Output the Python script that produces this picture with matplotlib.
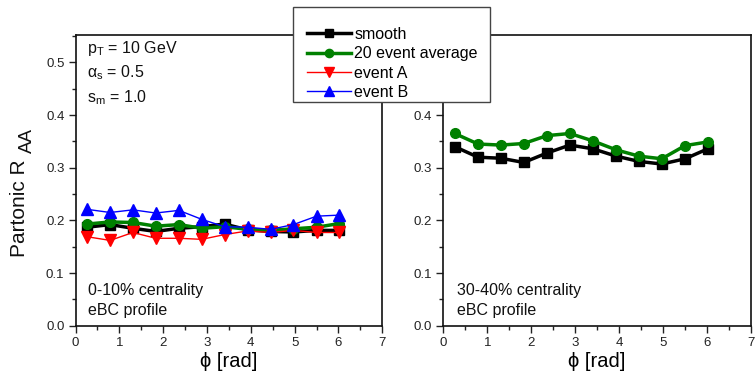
import matplotlib
matplotlib.use("Agg")
import matplotlib.pyplot as plt
from matplotlib.patches import Rectangle
from matplotlib.ticker import MultipleLocator, FormatStrFormatter

plt.rcParams['font.family'] = ['Liberation Sans', 'DejaVu Sans']
plt.rcParams['mathtext.fontset'] = 'custom'
plt.rcParams['mathtext.rm'] = 'Liberation Sans'
plt.rcParams['mathtext.it'] = 'Liberation Sans:italic'

# ---- data ----
phi = [0.26, 0.79, 1.31, 1.83, 2.36, 2.88, 3.40, 3.93, 4.45, 4.97, 5.50, 6.02]

c010_smooth = [0.187, 0.192, 0.185, 0.179, 0.185, 0.188, 0.193, 0.182, 0.179, 0.178, 0.181, 0.181]
c010_avg    = [0.193, 0.197, 0.196, 0.189, 0.192, 0.185, 0.188, 0.183, 0.181, 0.184, 0.187, 0.194]
c010_evA    = [0.169, 0.162, 0.177, 0.166, 0.166, 0.164, 0.173, 0.180, 0.177, 0.181, 0.177, 0.177]
c010_evB    = [0.221, 0.215, 0.220, 0.214, 0.219, 0.202, 0.188, 0.187, 0.183, 0.192, 0.208, 0.210]

c3040_smooth = [0.340, 0.320, 0.318, 0.310, 0.328, 0.343, 0.336, 0.322, 0.312, 0.307, 0.317, 0.336]
c3040_avg    = [0.365, 0.345, 0.343, 0.346, 0.361, 0.365, 0.351, 0.334, 0.322, 0.317, 0.342, 0.349]

labels = ["smooth", "20 event average", "event A", "event B"]
xticks = [0, 1, 2, 3, 4, 5, 6, 7]
yticks_left = [0.0, 0.1, 0.2, 0.3, 0.4, 0.5]
yticks_right = [0.0, 0.1, 0.2, 0.3, 0.4]   # 0.5 lies under the legend box

W, H = 755, 380
fig = plt.figure(figsize=(W / 100, H / 100), dpi=100)

def px_axes(x0, x1, ytop, ybot):
    return fig.add_axes([x0 / W, 1 - ybot / H, (x1 - x0) / W, (ybot - ytop) / H])

axL = px_axes(75.5, 382.3, 34.5, 325.7)
axR = px_axes(443.3, 751.0, 34.5, 325.7)

for ax, yt in ((axL, yticks_left), (axR, yticks_right)):
    ax.set_xlim(0, 7)
    ax.set_ylim(0, 0.553)
    ax.set_xticks(xticks)
    ax.set_yticks(yt)
    ax.yaxis.set_major_formatter(FormatStrFormatter('%.1f'))
    ax.xaxis.set_minor_locator(MultipleLocator(0.5))
    ax.yaxis.set_minor_locator(MultipleLocator(0.05))
    ax.tick_params(which='major', direction='out', length=5, width=1.0, labelsize=9.5,
                   colors='#222222', pad=3)
    ax.tick_params(which='minor', direction='out', length=3, width=1.0, colors='#222222')
    ax.tick_params(top=False, right=False, which='both')
    for s in ax.spines.values():
        s.set_linewidth(1.2)
        s.set_color('#111111')
    ax.set_xlabel("ϕ [rad]", fontsize=14.5, labelpad=2)

h1, = axL.plot(phi, c010_smooth, color='black', lw=2.5, marker='s', ms=6.5, label=labels[0])
h2, = axL.plot(phi, c010_avg, color='#008000', lw=2.5, marker='o', ms=7, label=labels[1])
h3, = axL.plot(phi, c010_evA, color='#ff0000', lw=1.0, marker='v', ms=8, label=labels[2])
h4, = axL.plot(phi, c010_evB, color='#0000ff', lw=1.0, marker='^', ms=8, label=labels[3])

axR.plot(phi, c3040_smooth, color='black', lw=2.5, marker='s', ms=6.5)
axR.plot(phi, c3040_avg, color='#008000', lw=2.5, marker='o', ms=7)

# y label with large subscript
fig.text(25 / W, 1 - 257 / H, "Partonic R", rotation=90, rotation_mode='anchor',
         ha='left', va='baseline', fontsize=15, color='#111111')
fig.text(32 / W, 1 - 153 / H, "AA", rotation=90, rotation_mode='anchor',
         ha='left', va='baseline', fontsize=13.5, color='#111111')

tk = dict(fontsize=11.5, color='#111111', transform=fig.transFigure)
fig.text(87 / W, 1 - 48 / H, r"p$_\mathrm{T}$ = 10 GeV", va='center', **tk)
fig.text(87 / W, 1 - 73 / H, r"α$_\mathrm{s}$ = 0.5", va='center', **tk)
fig.text(87 / W, 1 - 98 / H, r"s$_\mathrm{m}$ = 1.0", va='center', **tk)
fig.text(88 / W, 1 - 290 / H, "0-10% centrality", va='center', **tk)
fig.text(88 / W, 1 - 310 / H, "eBC profile", va='center', **tk)
fig.text(457 / W, 1 - 291 / H, "30-40% centrality", va='center', **tk)
fig.text(457 / W, 1 - 310 / H, "eBC profile", va='center', **tk)

# legend box
rect = Rectangle((293 / W, 1 - 102 / H), (490 - 293) / W, (102 - 7) / H,
                 transform=fig.transFigure, facecolor='white', edgecolor='#444444',
                 lw=1.0, zorder=10)
fig.patches.append(rect)
leg = fig.legend(handles=[h1, h2, h3, h4], labels=labels, loc='upper left',
                 bbox_to_anchor=(307 / W, 1 - 27 / H), bbox_transform=fig.transFigure,
                 frameon=False, fontsize=11.5, handlelength=2.75, handletextpad=0.2,
                 labelspacing=0.27, borderpad=0, borderaxespad=0, markerscale=0.85)
leg.set_zorder(11)

fig.savefig("out.png", dpi=100)
